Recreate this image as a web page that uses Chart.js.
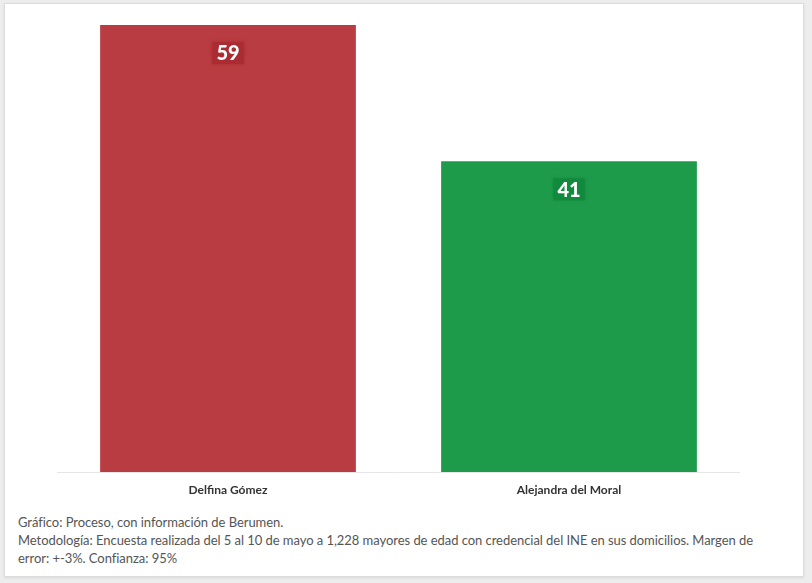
<!DOCTYPE html>
<html lang="es">
<head>
<meta charset="UTF-8">
<title>Delfina Gómez vs Alejandra del Moral</title>
<script src="https://cdn.jsdelivr.net/npm/chart.js"></script>
<style>
    html, body { margin: 0; padding: 0; background: #ededed; }
    body { width: 812px; height: 583px; position: relative; overflow: hidden; font-family: Lato, "Open Sans", sans-serif; }
    .tarjeta {
        position: absolute; left: 4px; top: 3px; width: 798px; height: 572px;
        background: #fff; border: 1px solid #dcdcdc; box-shadow: 0 1px 3px rgba(0,0,0,0.08);
    }
    .grafico { position: absolute; left: 0; top: 0; width: 812px; height: 500px; }
    .nota {
        position: absolute; left: 18px; top: 513px; width: 780px;
        font-size: 13px; line-height: 18px; color: #555; letter-spacing: -0.05px;
    }
</style>
</head>
<body>
    <div class="tarjeta"></div>
    <div class="grafico"><canvas id="graficoEncuesta"></canvas></div>
    <div class="nota">
        Gráfico: Proceso, con información de Berumen.<br>
        Metodología: Encuesta realizada del 5 al 10 de mayo a 1,228 mayores de edad con credencial del INE en sus domicilios. Margen de<br>
        error: +-3%. Confianza: 95%
    </div>

<script>
var candidatos = ['Delfina Gómez', 'Alejandra del Moral'];
var porcentajes = [59, 41];
var colores = ['#b83c41', '#1d9b4b'];
var coloresEtiqueta = ['#ab2b33', '#12893c'];

// etiqueta con caja encima de cada barra
var etiquetas = {
    id: 'etiquetas',
    afterDatasetsDraw: function (chart) {
        var ctx = chart.ctx;
        var meta = chart.getDatasetMeta(0);
        ctx.save();
        ctx.font = '900 20px Lato, "Open Sans", sans-serif';
        ctx.textAlign = 'center';
        ctx.textBaseline = 'middle';
        meta.data.forEach(function (barra, i) {
            var texto = String(porcentajes[i]);
            var ancho = ctx.measureText(texto).width + 8;
            var y = barra.y + 28;
            ctx.fillStyle = coloresEtiqueta[i];
            ctx.shadowColor = coloresEtiqueta[i];
            ctx.shadowBlur = 3;
            ctx.fillRect(barra.x - ancho / 2, y - 11, ancho, 22);
            ctx.shadowBlur = 0;
            ctx.fillStyle = '#ffffff';
            ctx.fillText(texto, barra.x, y + 1);
        });
        ctx.restore();
    }
};

var ctx = document.getElementById('graficoEncuesta').getContext('2d');
var grafico = new Chart(ctx, {
    type: 'bar',
    data: {
        labels: candidatos,
        datasets: [{
            data: porcentajes,
            backgroundColor: colores,
            borderWidth: 0,
            categoryPercentage: 1,
            barPercentage: 0.75
        }]
    },
    options: {
        responsive: true,
        maintainAspectRatio: false,
        animation: false,
        layout: { padding: { left: 57.5, right: 72.5, top: 25, bottom: 0 } },
        plugins: {
            legend: { display: false },
            tooltip: { enabled: false }
        },
        scales: {
            x: {
                grid: { display: false },
                border: { display: true, color: '#e6e6e6', width: 1 },
                ticks: {
                    color: '#333',
                    padding: 3,
                    font: { family: 'Lato, "Open Sans", sans-serif', size: 12, weight: 'bold' }
                },
                afterFit: function (escala) { escala.height = 28; }
            },
            y: {
                display: false,
                min: 0,
                max: 59
            }
        }
    },
    plugins: [etiquetas]
});
</script>
</body>
</html>
